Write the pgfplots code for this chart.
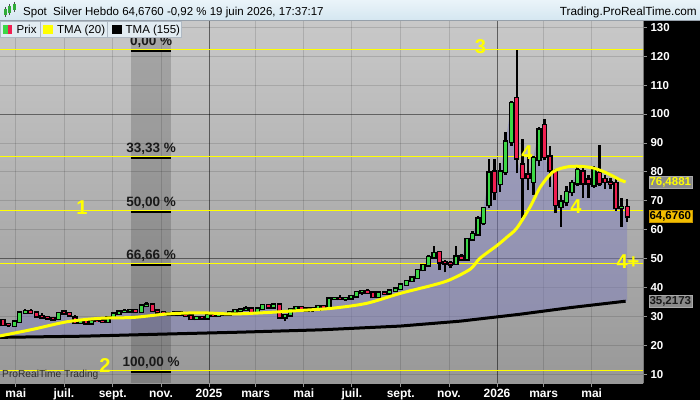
\documentclass[border=0pt]{standalone}
\usepackage{fontspec}
\setmainfont{Liberation Sans}
\usepackage{pgfplots}
\pgfplotsset{compat=1.18}
\usepackage{pgfplotstable}

\definecolor{bgtop}{RGB}{200,200,200}
\definecolor{bgbot}{RGB}{152,152,152}
\definecolor{cgreen}{RGB}{60,215,70}
\definecolor{cred}{RGB}{240,30,80}
\definecolor{lav}{RGB}{128,128,188}
\definecolor{yel}{RGB}{255,255,0}
\definecolor{hdrtop}{RGB}{234,244,249}
\definecolor{hdrbot}{RGB}{212,230,240}
\definecolor{legbg}{RGB}{226,236,242}
\definecolor{boxgray}{RGB}{138,138,138}
\definecolor{boxorange}{RGB}{242,190,0}
\definecolor{labdark}{RGB}{25,25,25}

\pgfplotstableread{
d o h l c
-261 28.6 29.2 26.6 27.0
-254 27.3 27.8 26.4 27.0
-247 26.8 28.4 26.2 28.1
-240 28.1 31.4 27.9 31.2
-233 31.2 32.5 30.7 31.7
-226 31.8 32.4 30.8 31.3
-219 31.2 31.6 29.6 30.0
-212 30.0 31.0 29.1 29.6
-205 29.6 30.1 28.8 29.3
-198 29.3 29.9 28.7 29.0
-191 29.1 31.2 28.9 31.0
-184 31.5 31.9 30.7 31.0
-177 31.0 31.4 30.2 30.4
-170 29.5 30.5 27.4 27.8
-163 27.8 28.9 27.3 28.6
-156 28.4 28.8 27.2 27.6
-149 27.6 28.9 27.3 28.5
-142 28.5 29.0 28.0 28.4
-135 28.4 28.9 27.6 28.0
-128 28.0 29.7 27.8 29.5
-121 29.5 31.2 29.2 30.9
-114 30.9 31.9 30.6 31.5
-107 31.5 32.4 31.2 31.8
-100 31.8 32.4 31.3 32.0
-93 32.0 32.3 31.2 31.5
-86 31.5 33.8 31.2 33.6
-79 33.6 34.8 33.2 34.0
-72 34.0 34.4 31.6 31.9
-65 31.9 32.3 31.0 31.4
-58 31.4 31.8 30.5 31.1
-51 31.1 31.5 30.3 30.7
-44 30.7 31.5 30.2 31.2
-37 31.2 31.4 30.2 30.5
-30 30.5 31.0 29.6 30.2
-23 30.2 30.5 28.8 29.1
-16 29.1 29.9 28.7 29.6
-9 29.6 29.9 29.0 29.3
-2 29.3 30.7 29.0 30.4
5 30.4 31.0 29.9 30.2
12 30.2 30.9 29.8 30.5
19 30.5 31.2 30.2 30.7
26 30.7 31.7 30.3 31.4
33 31.4 32.6 31.2 32.0
40 32.0 32.5 31.5 32.2
47 32.2 33.4 31.9 32.6
54 32.6 32.9 30.9 31.2
61 31.2 32.8 31.0 32.6
68 32.6 34.1 32.4 33.8
75 33.8 34.2 32.8 33.1
82 33.1 34.5 32.8 34.0
89 34.0 34.3 29.2 29.6
96 29.6 30.9 28.3 30.4
103 30.4 32.8 30.2 32.5
110 32.5 33.6 32.2 33.1
117 33.1 33.3 31.8 32.1
124 32.1 33.0 31.7 32.6
131 32.6 33.0 31.6 32.3
138 32.3 33.6 32.2 33.4
145 33.4 33.7 32.7 33.0
152 33.0 36.2 32.8 36.0
159 36.0 36.8 35.6 36.3
166 36.3 37.3 35.8 36.0
173 36.0 36.6 35.3 36.2
180 36.2 37.2 35.9 36.9
187 36.9 38.5 36.6 38.3
194 38.3 39.1 37.5 38.6
201 38.6 39.5 37.9 38.2
208 38.2 38.3 36.2 36.7
215 36.7 38.4 36.6 38.1
222 38.1 38.6 37.5 37.9
229 37.9 39.0 37.4 38.9
236 38.9 39.9 38.5 39.6
243 39.6 41.4 39.5 40.9
250 40.9 42.5 40.6 42.2
257 42.2 43.8 41.9 43.3
264 43.3 46.5 43.0 46.0
271 46.0 48.1 45.5 47.6
278 47.6 51.2 47.0 50.4
285 50.4 54.3 49.8 51.9
292 52.2 52.6 46.0 48.7
299 48.7 49.6 45.2 48.4
306 48.4 49.2 46.6 48.0
313 48.2 54.3 47.8 50.6
320 50.6 51.4 49.3 49.8
327 49.8 56.8 49.5 56.6
334 56.6 59.4 56.0 58.4
341 58.4 64.8 58.0 63.8
348 62.3 67.9 61.5 67.4
355 68.5 84.5 67.5 79.7
362 80.0 84.5 70.2 73.1
369 75.8 83.0 73.0 80.0
376 80.0 93.9 79.0 90.4
383 90.4 104.5 89.0 103.8
390 105.4 122.1 79.5 84.7
397 82.4 91.5 64.0 78.0
404 79.0 85.2 73.7 78.0
411 76.6 85.5 72.0 84.8
418 84.1 95.5 82.0 94.5
425 96.2 98.3 84.0 85.2
432 85.2 89.0 74.8 80.6
439 80.0 81.0 65.7 68.5
446 67.9 72.0 61.0 69.6
453 69.6 75.0 68.0 73.0
460 73.0 77.0 71.5 76.0
467 76.0 82.0 75.0 80.6
474 80.0 81.5 71.0 76.0
481 77.2 79.0 71.0 76.1
488 75.4 82.0 74.5 80.6
495 79.6 89.3 75.0 76.1
502 77.5 79.0 74.0 76.5
509 76.3 78.0 74.0 75.8
516 76.0 77.5 66.5 67.5
523 67.5 71.0 61.0 67.8
530 67.8 70.5 62.7 64.68
}\candles

% outline of the area: weekly closes, then TMA(155) back to the start
\pgfplotstableread{
d v
-265 27.3
-261 27.0
-254 27.0
-247 28.1
-240 31.2
-233 31.7
-226 31.3
-219 30.0
-212 29.6
-205 29.3
-198 29.0
-191 31.0
-184 31.0
-177 30.4
-170 27.8
-163 28.6
-156 27.6
-149 28.5
-142 28.4
-135 28.0
-128 29.5
-121 30.9
-114 31.5
-107 31.8
-100 32.0
-93 31.5
-86 33.6
-79 34.0
-72 31.9
-65 31.4
-58 31.1
-51 30.7
-44 31.2
-37 30.5
-30 30.2
-23 29.1
-16 29.6
-9 29.3
-2 30.4
5 30.2
12 30.5
19 30.7
26 31.4
33 32.0
40 32.2
47 32.6
54 31.2
61 32.6
68 33.8
75 33.1
82 34.0
89 29.6
96 30.4
103 32.5
110 33.1
117 32.1
124 32.6
131 32.3
138 33.4
145 33.0
152 36.0
159 36.3
166 36.0
173 36.2
180 36.9
187 38.3
194 38.6
201 38.2
208 36.7
215 38.1
222 37.9
229 38.9
236 39.6
243 40.9
250 42.2
257 43.3
264 46.0
271 47.6
278 50.4
285 51.9
292 48.7
299 48.4
306 48.0
313 50.6
320 49.8
327 56.6
334 58.4
341 63.8
348 67.4
355 79.7
362 73.1
369 80.0
376 90.4
383 103.8
390 84.7
397 78.0
404 78.0
411 84.8
418 94.5
425 85.2
432 80.6
439 68.5
446 69.6
453 73.0
460 76.0
467 80.6
474 76.0
481 76.1
488 80.6
495 76.1
502 76.5
509 75.8
516 67.5
523 67.8
530 64.68
530 35.3
528 35.22
458 33.0
394 30.7
318 28.3
242 26.6
141 25.3
40 24.5
-62 23.8
-160 23.1
-265 22.7
}\areatab

\begin{document}
\begin{tikzpicture}[x=1pt,y=1pt]
\fill[black] (0,0) rectangle (700,400);
\shade[top color=bgtop, bottom color=bgbot] (0,17) rectangle (643,379);
\begin{axis}[
  at={(0pt,17pt)}, anchor=south west,
  scale only axis, width=643pt, height=362pt,
  xmin=-265, xmax=550, ymin=6.9, ymax=132.2,
  clip=false,
  axis line style={draw=none},
  xtick={-245,-184,-122,-61,0,59,120,181,243,304,365,424,485},
  xticklabels={mai,juil.,sept.,nov.,2025,mars,mai,juil.,sept.,nov.,2026,mars,mai},
  ytick={10,20,...,130},
  xtick pos=left, ytick pos=right, yticklabel pos=right,
  tick align=outside, major tick length=4pt,
  tick style={draw={rgb,255:red,150;green,150;blue,150}, line width=0.8pt},
  grid=major,
  major grid style={draw=black, opacity=0.13, line width=0.8pt},
  extra x ticks={0,365}, extra x tick labels={},
  extra x tick style={grid=major, major grid style={draw=black, opacity=0.45, line width=0.8pt}, tick style={draw=none}},
  extra y ticks={50,100}, extra y tick labels={},
  extra y tick style={grid=major, major grid style={draw=black, opacity=0.4, line width=0.8pt}, tick style={draw=none}},
  /pgf/number format/assume math mode=true,
  yticklabel style={font=\fontsize{11.5}{12}\selectfont\bfseries, text=white},
  xticklabel style={font=\fontsize{12}{13}\selectfont\bfseries, text=white, text height=8.6pt, text depth=2.4pt, yshift=2pt},
]
% price area between close and TMA(155)
\addplot[fill=lav, fill opacity=0.5, draw=none, forget plot] table[x=d,y=v] {\areatab} -- cycle;

% shaded band
\fill[black, opacity=0.16] (axis cs:-99,6.9) rectangle (axis cs:-48.5,127.5);

% Fibonacci levels
\addplot[yel, line width=1.2pt, forget plot] coordinates {(-265,122.3) (550,122.3)};
\addplot[yel, line width=1.2pt, forget plot] coordinates {(-265,85.24) (550,85.24)};
\addplot[yel, line width=1.2pt, forget plot] coordinates {(-265,66.7) (550,66.7)};
\addplot[yel, line width=1.2pt, forget plot] coordinates {(-265,48.18) (550,48.18)};
\addplot[yel, line width=1.2pt, forget plot] coordinates {(-265,11.1) (550,11.1)};
\draw[black, line width=2pt] ([yshift=-1.6pt]axis cs:-99,122.3) -- ([yshift=-1.6pt]axis cs:-48.5,122.3);
\draw[black, line width=2pt] ([yshift=-1.6pt]axis cs:-99,85.24) -- ([yshift=-1.6pt]axis cs:-48.5,85.24);
\draw[black, line width=2pt] ([yshift=-1.6pt]axis cs:-99,66.7) -- ([yshift=-1.6pt]axis cs:-48.5,66.7);
\draw[black, line width=2pt] ([yshift=-1.6pt]axis cs:-99,48.18) -- ([yshift=-1.6pt]axis cs:-48.5,48.18);
\draw[black, line width=2pt] ([yshift=-1.6pt]axis cs:-99,11.1) -- ([yshift=-1.6pt]axis cs:-48.5,11.1);
\node[font=\fontsize{13.5}{14}\selectfont\bfseries, text=labdark, anchor=base] at ([yshift=4pt]axis cs:-73.5,122.3) {0,00 \%};
\node[font=\fontsize{13.5}{14}\selectfont\bfseries, text=labdark, anchor=base] at ([yshift=4pt]axis cs:-73.5,85.24) {33,33 \%};
\node[font=\fontsize{13.5}{14}\selectfont\bfseries, text=labdark, anchor=base] at ([yshift=4pt]axis cs:-73.5,66.7) {50,00 \%};
\node[font=\fontsize{13.5}{14}\selectfont\bfseries, text=labdark, anchor=base] at ([yshift=4pt]axis cs:-73.5,48.18) {66,66 \%};
\node[font=\fontsize{13.5}{14}\selectfont\bfseries, text=labdark, anchor=base] at ([yshift=4pt]axis cs:-73.5,11.1) {100,00 \%};

% TMA(155)
\addplot[black, line width=3pt, forget plot] coordinates {
(-265,22.7) (-160,23.1) (-62,23.8) (40,24.5) (141,25.3) (242,26.6) (318,28.3) (394,30.7) (458,33.0) (528,35.22)};

% candles: wicks
\addplot[draw=none, mark=none, forget plot,
  error bars/.cd, y dir=plus, y explicit, error mark=none,
  error bar style={draw=black, line width=2.5pt, line cap=butt}]
  table[x=d, y=l, y error plus expr={\thisrow{h}-\thisrow{l}}] {\candles};
% bodies outline
\addplot[draw=none, mark=none, forget plot,
  error bars/.cd, y dir=plus, y explicit, error mark=none,
  error bar style={draw=black, line width=5.4pt, line cap=butt}]
  table[x=d, y expr={min(\thisrow{o},\thisrow{c})-0.5}, y error plus expr={abs(\thisrow{c}-\thisrow{o})+1.0}] {\candles};
% green bodies
\addplot[draw=none, mark=none, forget plot,
  error bars/.cd, y dir=plus, y explicit, error mark=none,
  error bar style={draw=cgreen, line width=2.6pt, line cap=butt}]
  table[x=d, y=o, y error plus expr={max(\thisrow{c}-\thisrow{o},0)}] {\candles};
% red bodies
\addplot[draw=none, mark=none, forget plot,
  error bars/.cd, y dir=plus, y explicit, error mark=none,
  error bar style={draw=cred, line width=2.6pt, line cap=butt}]
  table[x=d, y=c, y error plus expr={max(\thisrow{o}-\thisrow{c},0)}] {\candles};

% TMA(20)
\addplot[yel, line width=3pt, smooth, forget plot] coordinates {
(-265,23.2) (-223,25.5) (-180,28.1) (-138,29.3) (-96,29.6) (-53,30.8) (-11,31.2) (30,30.8) (74,31.3) (115,32.0) (157,32.8) (200,34.5) (242,37.9) (284,40.8) (305,42.6) (331,46.3) (343,50.0) (365,54.5) (378,57.5) (390,60.5) (407,67.9) (420,74.8) (436,80.0) (454,81.7) (470,81.9) (487,81.3) (504,79.6) (521,77.2) (528,76.49)};

% wave labels
\node[text=yel, font=\fontsize{20}{20}\selectfont\bfseries] at (axis cs:-161,67.5) {1};
\node[text=yel, font=\fontsize{20}{20}\selectfont\bfseries] at (axis cs:-132,12.8) {2};
\node[text=yel, font=\fontsize{20}{20}\selectfont\bfseries] at (axis cs:344,123.5) {3};
\node[text=yel, font=\fontsize{20}{20}\selectfont\bfseries] at (axis cs:403,86.5) {4};
\node[text=yel, font=\fontsize{20}{20}\selectfont\bfseries] at (axis cs:465,67.8) {4};
\node[text=yel, font=\fontsize{20}{20}\selectfont\bfseries] at (axis cs:531,48.8) {4+};

% right axis line
\draw[draw={rgb,255:red,120;green,120;blue,120}, line width=1pt] (axis cs:550,6.9) -- (axis cs:550,132.2);

% value boxes
\node[fill=boxgray, draw={rgb,255:red,170;green,170;blue,170}, text=yel, font=\fontsize{11.5}{12}\selectfont\bfseries, inner sep=0.8pt, minimum height=12pt, anchor=west] at ([xshift=5.5pt,yshift=-0.5pt]axis cs:550,76.4881) {76,4881};
\node[fill=boxorange, draw={rgb,255:red,200;green,150;blue,0}, text=black, font=\fontsize{11.5}{12}\selectfont\bfseries, inner sep=0.8pt, minimum height=12pt, anchor=west] at ([xshift=5.5pt]axis cs:550,64.676) {64,6760};
\node[fill=boxgray, draw={rgb,255:red,170;green,170;blue,170}, text=labdark, font=\fontsize{11.5}{12}\selectfont\bfseries, inner sep=0.8pt, minimum height=12pt, anchor=west] at ([xshift=5.5pt]axis cs:550,35.2173) {35,2173};
\end{axis}

% header
\shade[top color=hdrtop, bottom color=hdrbot] (0,379) rectangle (700,400);
\draw[draw={rgb,255:red,150;green,160;blue,170}] (0,379.3) -- (700,379.3);
% candle icon
\foreach \cx/\cyb/\cyt in {5/385/391, 9.5/387/394, 14/390/396}{
  \draw[black!70, line width=0.6pt] (\cx,\cyb-2) -- (\cx,\cyt+2);
  \fill[cgreen!80!black] (\cx-1.5,\cyb) rectangle (\cx+1.5,\cyt);
}
\node[anchor=base west, font=\fontsize{11.5}{12}\selectfont, inner sep=0pt] at (23,384.3) {Spot\ \ Silver Hebdo 64,6760 -0,92 \% 19 juin 2026, 17:37:17};
\node[anchor=base east, font=\fontsize{11.8}{12}\selectfont, inner sep=0pt] at (697,384.3) {Trading.ProRealTime.com};

% legend
\foreach \xa/\xb in {0/40, 40/107, 107/181}{
  \fill[legbg] (\xa,363) rectangle (\xb,378.5);
  \draw[draw={rgb,255:red,175;green,185;blue,195}, line width=0.8pt] (\xa,363) rectangle (\xb,378.5);
}
\fill[cgreen] (3,366) rectangle (7.5,375);
\fill[cred] (7.5,366) rectangle (12,375);
\fill[yel] (43,366) rectangle (53,375);
\fill[black] (112,366) rectangle (122,375);
\node[anchor=base west, font=\fontsize{11.5}{12}\selectfont, inner sep=0pt] at (16.5,366.3) {Prix};
\node[anchor=base west, font=\fontsize{11.5}{12}\selectfont, inner sep=0pt] at (57,366.3) {TMA (20)};
\node[anchor=base west, font=\fontsize{11.5}{12}\selectfont, inner sep=0pt] at (125.5,366.3) {TMA (155)};

% watermark
\node[anchor=base west, font=\fontsize{10.2}{11}\selectfont, text={rgb,255:red,45;green,45;blue,45}, inner sep=0pt] at (2,22.3) {ProRealTime Trading};

\pgfresetboundingbox
\useasboundingbox (0,0) rectangle (700,400);
\end{tikzpicture}
\end{document}
